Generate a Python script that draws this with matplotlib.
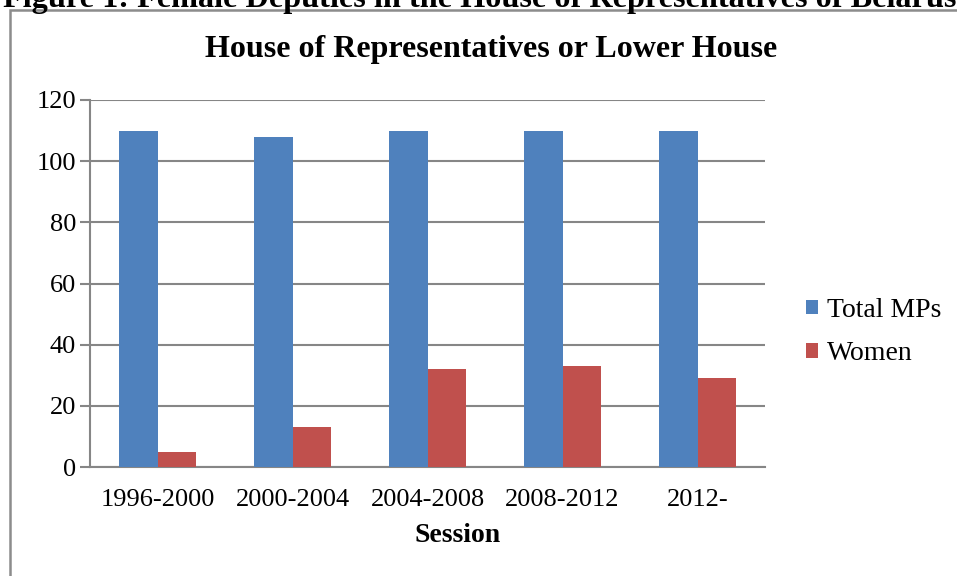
import numpy as np
import matplotlib.pyplot as plt
from matplotlib.patches import Rectangle

# seats in the lower house, by session
sessions = ['1996-2000', '2000-2004', '2004-2008', '2008-2012', '2012-']
total_mps = [110, 108, 110, 110, 110]
women = [5, 13, 32, 33, 29]

plt.rcParams['font.family'] = ['Liberation Serif', 'DejaVu Serif']

fig = plt.figure(figsize=(9.57, 5.76), dpi=100)
W, H = 957, 576
ax = fig.add_axes([90 / W, 1 - 467 / H, 675 / W, 367 / H])

x = np.arange(len(sessions))
w = 0.285
ax.bar(x - w / 2, total_mps, w, color='#4f81bd', label='Total MPs', zorder=3)
ax.bar(x + w / 2, women, w, color='#c0504d', label='Women', zorder=3)

ax.set_xlim(-0.5, len(sessions) - 0.5)
ax.set_ylim(0, 120)
ax.set_yticks(range(0, 121, 20))
ax.set_xticks(x)
ax.set_xticklabels(sessions)
ax.grid(axis='y', color='#868686', linewidth=1.5, zorder=0)
for s in ['top', 'right']:
    ax.spines[s].set_visible(False)
for s in ['left', 'bottom']:
    ax.spines[s].set_color('#868686')
    ax.spines[s].set_linewidth(1.5)
ax.tick_params(axis='y', length=7, width=1.5, color='#868686', labelsize=19, pad=3)
ax.tick_params(axis='x', length=0, labelsize=19, pad=16)

fig.text(458 / W, 1 - 536 / H, 'Session', fontsize=20, fontweight='bold',
         ha='center', va='center')
fig.text(491 / W, 1 - 50 / H, 'House of Representatives or Lower House',
         fontsize=23, fontweight='bold', ha='center', va='center')

fig.legend(loc='upper left', bbox_to_anchor=(792 / W, 1 - 284 / H), frameon=False,
           fontsize=20, handlelength=0.45, handleheight=0.45, handletextpad=0.3,
           labelspacing=0.65, borderpad=0)

# outer frame of the chart box
fig.patches.append(Rectangle((10 / W, -0.1), 1.1, 1 - 10 / H + 0.1,
                             transform=fig.transFigure, fill=False,
                             edgecolor='#8c8c8c', linewidth=1.8))

fig.text(3 / W, 1 - 7 / H, 'Figure 1: Female Deputies in the House of Representatives of Belarus',
         fontsize=23.2, fontweight='bold', ha='left', va='baseline')

fig.savefig('out.png', dpi=100)
